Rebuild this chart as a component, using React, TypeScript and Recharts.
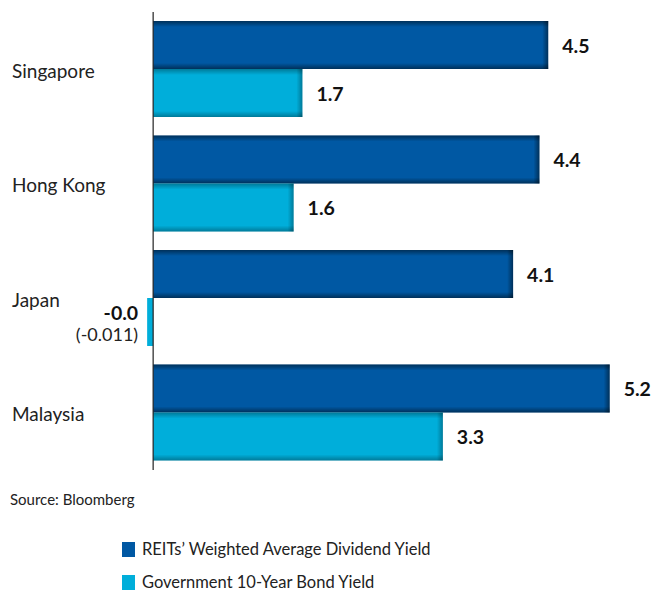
import React from 'react';
import { BarChart, Bar, XAxis, YAxis, ReferenceLine, LabelList } from 'recharts';

const categories = ['Singapore', 'Hong Kong', 'Japan', 'Malaysia'];
const reitYield = [4.5, 4.4, 4.1, 5.2];
const bondYield = [1.7, 1.6, -0.011, 3.3];
const seriesNames = ["REITs\u2019 Weighted Average Dividend Yield", 'Government 10-Year Bond Yield'];
const sourceText = 'Source: Bloomberg';

const REIT_COLOR = '#0058A3';
const BOND_COLOR = '#00AEDA';
const FONT = 'Lato, "Open Sans", sans-serif';

const data = categories.map((name, i) => ({ name, reit: reitYield[i], bond: bondYield[i] }));

const ShadedBar = (props: any) => {
  let { x, y, width, height, fill, dark } = props;
  if (width == null || height == null) return null;
  if (width < 0) { x += width; width = -width; }
  const e = 6;
  const showEdges = width >= 14;
  return (
    <g>
      <rect x={x} y={y} width={width} height={height} fill={fill} />
      {showEdges && (
        <>
          <rect x={x} y={y} width={width} height={e} fill="url(#gTop)" opacity={dark} />
          <rect x={x} y={y + height - e} width={width} height={e} fill="url(#gBottom)" opacity={dark} />
          <rect x={x + width - e} y={y} width={e} height={height} fill="url(#gRight)" opacity={dark} />
        </>
      )}
    </g>
  );
};

const ValueLabel = (props: any) => {
  const { x, y, width, height, value } = props;
  const v = Number(value);
  const cy = y + height / 2;
  if (v < 0) {
    const left = Math.min(x, x + width);
    return (
      <g>
        <text x={left - 9} y={cy - 10} textAnchor="end" dominantBaseline="central"
          fontFamily={FONT} fontWeight={700} fontSize={19.5} fill="#111">{v.toFixed(1)}</text>
        <text x={left - 9} y={cy + 12} textAnchor="end" dominantBaseline="central"
          fontFamily={FONT} fontWeight={400} fontSize={18} fill="#222">{`(${v})`}</text>
      </g>
    );
  }
  return (
    <text x={x + width + 14} y={cy} textAnchor="start" dominantBaseline="central"
      fontFamily={FONT} fontWeight={700} fontSize={19.5} fill="#111">{v.toFixed(1)}</text>
  );
};

const CategoryTick = (props: any) => {
  const { y, payload } = props;
  return (
    <text x={12} y={y + 1} textAnchor="start" dominantBaseline="central"
      fontFamily={FONT} fontSize={19} fill="#222">{payload.value}</text>
  );
};

export default function App() {
  return (
    <div style={{ position: 'absolute', left: 0, top: 0, width: 656, height: 591, background: '#fff', fontFamily: FONT }}>
      <BarChart
        width={656}
        height={480}
        data={data}
        layout="vertical"
        margin={{ top: 12, right: 20, bottom: 10, left: 0 }}
        barCategoryGap={9}
        barGap={0}
      >
        <defs>
          <linearGradient id="gTop" x1="0" y1="0" x2="0" y2="1">
            <stop offset="0%" stopColor="#000" stopOpacity={1} />
            <stop offset="100%" stopColor="#000" stopOpacity={0} />
          </linearGradient>
          <linearGradient id="gBottom" x1="0" y1="1" x2="0" y2="0">
            <stop offset="0%" stopColor="#000" stopOpacity={1} />
            <stop offset="100%" stopColor="#000" stopOpacity={0} />
          </linearGradient>
          <linearGradient id="gRight" x1="1" y1="0" x2="0" y2="0">
            <stop offset="0%" stopColor="#000" stopOpacity={1} />
            <stop offset="100%" stopColor="#000" stopOpacity={0} />
          </linearGradient>
        </defs>
        <XAxis type="number" domain={[-0.07, 5.5]} hide />
        <YAxis type="category" dataKey="name" width={147} axisLine={false} tickLine={false} tick={<CategoryTick />} />
        <Bar dataKey="reit" name={seriesNames[0]} fill={REIT_COLOR} isAnimationActive={false}
          shape={(p: any) => <ShadedBar {...p} dark={0.45} />}>
          <LabelList dataKey="reit" content={<ValueLabel />} />
        </Bar>
        <Bar dataKey="bond" name={seriesNames[1]} fill={BOND_COLOR} isAnimationActive={false} minPointSize={6}
          shape={(p: any) => <ShadedBar {...p} dark={0.3} />}>
          <LabelList dataKey="bond" content={<ValueLabel />} />
        </Bar>
        <ReferenceLine x={0} stroke="#222" strokeWidth={1.2} ifOverflow="extendDomain" />
      </BarChart>
      <div style={{ position: 'absolute', left: 10, top: 490, fontSize: 15, color: '#222', whiteSpace: 'nowrap' }}>{sourceText}</div>
      <div style={{ position: 'absolute', left: 122, top: 538 }}>
        {[REIT_COLOR, BOND_COLOR].map((c, i) => (
          <div key={i} style={{ display: 'flex', alignItems: 'center', height: 22, marginBottom: 11 }}>
            <span style={{ display: 'inline-block', width: 13, height: 15, background: c, marginRight: 7 }} />
            <span style={{ fontSize: 16.5, color: '#222', whiteSpace: 'nowrap' }}>{seriesNames[i]}</span>
          </div>
        ))}
      </div>
    </div>
  );
}
